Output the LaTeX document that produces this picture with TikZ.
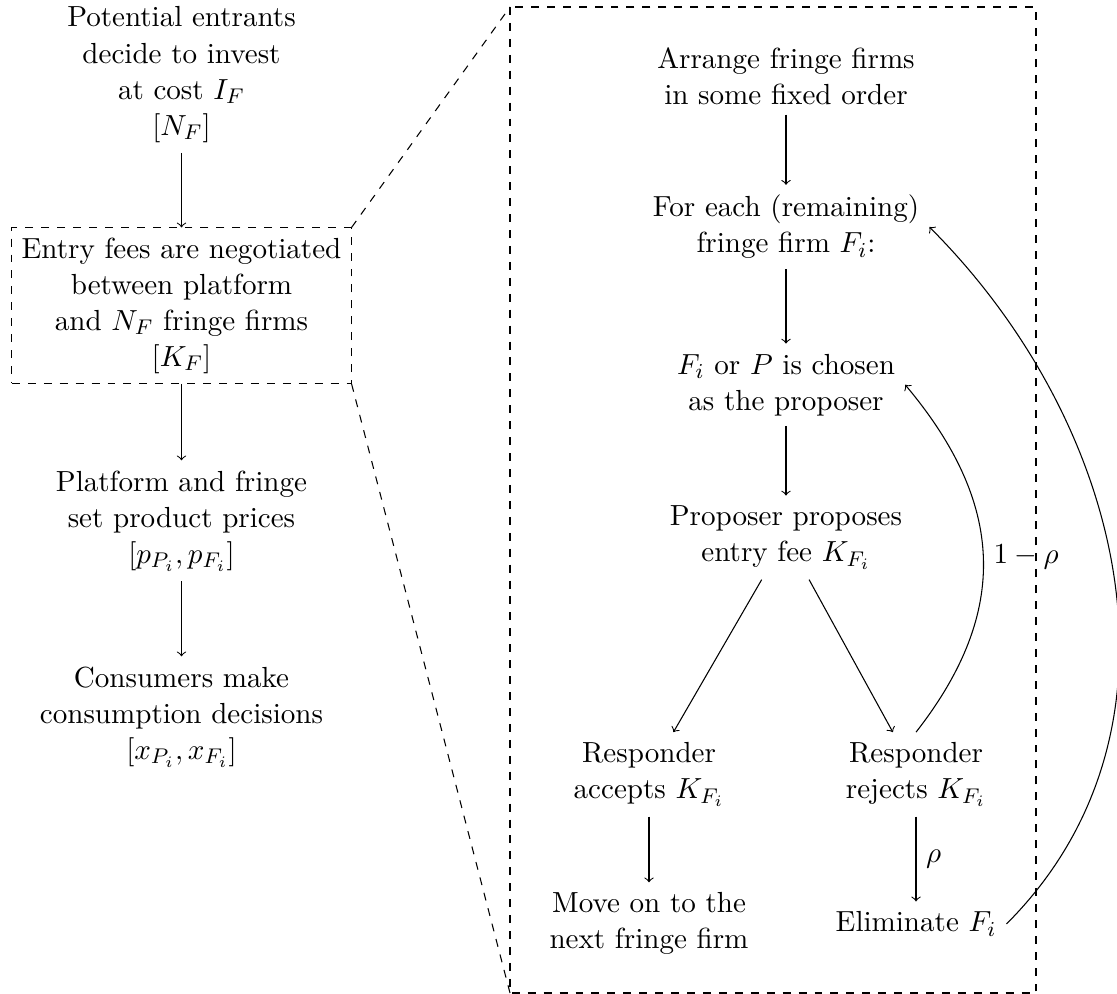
\documentclass[tikz,border=0pt,11pt]{standalone}
\begin{document}
\begin{tikzpicture}[x=0.3766pt,y=0.3766pt,
  every node/.style={align=center},
  conn/.style={->},
  zoomline/.style={dashed},
  stagebox/.style={draw,dashed}]
\useasboundingbox (0,0) rectangle (1117,-994);
% left column
\node (pot) at (181.5,-74.7) {Potential entrants\\decide to invest\\at cost $I_F$\\$[N_F]$};
\node[stagebox] (neg) at (181.5,-305.7) {Entry fees are negotiated\\between platform\\and $N_F$ fringe firms\\$[K_F]$};
\node (price) at (181.5,-520.8) {Platform and fringe\\set product prices\\$[p_{P_i},p_{F_i}]$};
\node (cons) at (181.5,-716.8) {Consumers make\\consumption decisions\\$[x_{P_i},x_{F_i}]$};
\draw[conn] (pot) -- (neg);
\draw[conn] (neg) -- (price);
\draw[conn] (price) -- (cons);
% zoom box
\coordinate (bnw) at (510,-7);
\coordinate (bse) at (1036,-993);
\coordinate (bsw) at (510,-993);
\draw[zoomline] (bnw) rectangle (bse);
\draw[zoomline] (neg.north east) -- (bnw);
\draw[zoomline] (neg.south east) -- (bsw);
% right column
\node (arr) at (786,-75.9) {Arrange fringe firms\\in some fixed order};
\node (each) at (786,-227) {For each (remaining)\\fringe firm $F_i$:};
\node (cho) at (786,-384.8) {$F_i$ or $P$ is chosen\\as the proposer};
\node (prop) at (786,-537.6) {Proposer proposes\\entry fee $K_{F_i}$};
\node (acc) at (649,-774.4) {Responder\\accepts $K_{F_i}$};
\node (rej) at (916,-774.4) {Responder\\rejects $K_{F_i}$};
\node (move) at (649,-923.7) {Move on to the\\next fringe firm};
\node (elim) at (916,-923.9) {Eliminate $F_i$};
\draw[conn] (arr) -- (each);
\draw[conn] (each) -- (cho);
\draw[conn] (cho) -- (prop);
\draw[conn] (prop) -- (acc);
\draw[conn] (prop) -- (rej);
\draw[conn] (acc) -- (move);
\draw[conn] (rej) -- node[right] {$\rho$} (elim);
\draw[conn] (rej.north) .. controls +(52:154) and +(-50:154) .. node[right] {$1-\rho$} (cho.east);
\draw[conn] (elim.east) .. controls +(45:275) and +(-45:275) .. (each.east);
\end{tikzpicture}
\end{document}
